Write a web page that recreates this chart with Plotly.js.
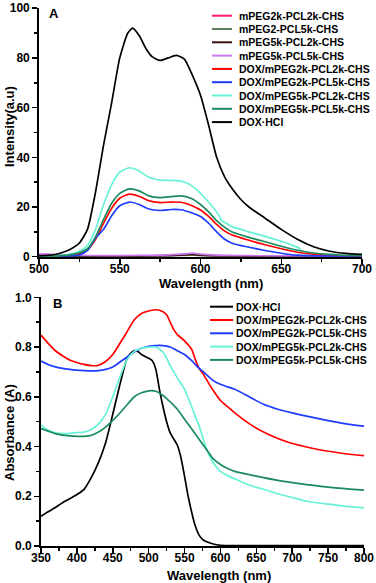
<!DOCTYPE html>
<html>
<head>
<meta charset="utf-8">
<script src="https://cdn.plot.ly/plotly-3.0.1.min.js"></script>
<style>
  html, body { margin: 0; padding: 0; background: #fff; }
  #myDiv { width: 376px; height: 583px; }
</style>
</head>
<body>
<div id="myDiv"></div>
<script>
// ---- panel A: fluorescence ----
let namesA = ["mPEG2k-PCL2k-CHS", "mPEG2-PCL5k-CHS", "mPEG5k-PCL2k-CHS", "mPEG5k-PCL5k-CHS",
	"DOX/mPEG2k-PCL2k-CHS", "DOX/mPEG2k-PCL5k-CHS", "DOX/mPEG5k-PCL2k-CHS", "DOX/mPEG5k-PCL5k-CHS", "DOX·HCl"]
let colorsA = ["#ff1a75", "#5e7d5a", "#3b1212", "#cc77ee", "#ff0000", "#1e3cff", "#66f2d6", "#1b8a5e", "#000000"]

let wlBlank = [500, 520, 540, 560, 580, 590, 595, 600, 610, 630, 660, 700]
let blank22 = [0.9, 0.5, 0.3, 0.3, 0.5, 0.8, 1.0, 0.7, 0.4, 0.3, 0.2, 0.2]
let blank25 = [0.6, 0.3, 0.2, 0.2, 0.3, 0.5, 0.6, 0.4, 0.3, 0.2, 0.1, 0.1]
let blank52 = [0.5, 0.2, 0.1, 0.2, 0.4, 0.7, 0.9, 0.6, 0.3, 0.2, 0.1, 0.1]
let blank55 = [1.1, 0.6, 0.4, 0.5, 0.7, 1.1, 1.4, 1.0, 0.6, 0.4, 0.3, 0.3]

let wlDox = [500, 510, 520, 525, 530, 535, 540, 545, 550, 556, 562, 568, 575, 582, 588, 594, 600, 605, 610, 615, 620, 630, 640, 650, 660, 670, 680, 690, 700]
let fl22 = [0.1, 0.2, 0.6, 1.2, 2.7, 7, 13.5, 19.5, 23.5, 25.2, 24.3, 22.5, 21.8, 22, 21.9, 20.7, 18.8, 16.2, 13, 10.3, 8.6, 6.6, 4.8, 3.2, 1.8, 1, 0.5, 0.3, 0.2]
let fl25 = [0, 0.1, 0.3, 0.7, 2.5, 7.5, 11, 16.5, 20.5, 22, 21, 19.2, 18.6, 19, 18.9, 17.8, 16.2, 13.5, 10, 7, 5.3, 3.8, 2.5, 1.4, 0.6, 0.3, 0.2, 0.1, 0.1]
let fl55 = [0.1, 0.2, 0.8, 1.6, 3.2, 8, 15, 21.5, 25.5, 27.3, 26.5, 24.5, 23.8, 24.2, 24.5, 23.5, 21, 18, 14.5, 11.8, 9.8, 7.8, 6, 4.2, 2.6, 1.5, 0.9, 0.5, 0.4]

let wl52 = [500, 510, 520, 525, 530, 535, 540, 545, 550, 556, 562, 568, 575, 582, 588, 594, 600, 605, 610, 612, 613, 615, 620, 630, 640, 650, 656, 661, 662]
let fl52 = [0.1, 0.3, 1.2, 2.2, 4.5, 11, 21, 29, 34, 35.8, 34.5, 32, 30.8, 30.7, 30.4, 28.8, 25.5, 22, 18, 16, 14.5, 13.8, 12, 10, 8.2, 6.2, 4.8, 3.5, 2.4]

let wlHcl = [500, 505, 510, 515, 520, 525, 530, 535, 540, 545, 550, 555, 558, 562, 566, 570, 575, 580, 585, 590, 595, 600, 605, 610, 615, 620, 625, 630, 640, 650, 660, 670, 680, 690, 700]
let flHcl = [0.3, 0.5, 0.9, 1.8, 3.2, 5.5, 11, 26, 45, 62, 80, 90, 92, 89, 84, 80.5, 79, 80, 81, 79.5, 73, 65, 53, 40, 32, 27, 23, 20, 15.5, 11, 7, 4, 2.2, 1.3, 0.9]

// ---- panel B: absorbance ----
let namesB = ["DOX·HCl", "DOX/mPEG2k-PCL2k-CHS", "DOX/mPEG2k-PCL5k-CHS", "DOX/mPEG5k-PCL2k-CHS", "DOX/mPEG5k-PCL5k-CHS"]
let colorsB = ["#000000", "#ff0000", "#1e3cff", "#66f2d6", "#1b8a5e"]

let wlAbsHcl = [350, 360, 370, 380, 390, 400, 410, 420, 430, 440, 450, 460, 470, 475, 480, 485, 490, 495, 500, 505, 510, 515, 520, 525, 530, 535, 540, 545, 550, 555, 560, 565, 570, 575, 580, 590, 600, 650, 700, 750, 800]
let absHcl = [0.12, 0.138, 0.155, 0.174, 0.19, 0.207, 0.228, 0.275, 0.335, 0.415, 0.53, 0.65, 0.755, 0.775, 0.785, 0.782, 0.77, 0.762, 0.755, 0.745, 0.71, 0.63, 0.56, 0.5, 0.455, 0.43, 0.405, 0.355, 0.28, 0.2, 0.135, 0.08, 0.045, 0.027, 0.018, 0.008, 0.003, 0.002, 0.002, 0.002, 0.002]

let wlAbs = [350, 360, 370, 380, 390, 400, 410, 420, 430, 440, 450, 460, 470, 480, 490, 500, 510, 520, 525, 530, 535, 540, 550, 560, 565, 570, 575, 580, 585, 590, 600, 610, 620, 640, 660, 680, 700, 720, 740, 760, 780, 800]
let abs22 = [0.848, 0.815, 0.785, 0.765, 0.748, 0.738, 0.73, 0.725, 0.727, 0.742, 0.77, 0.815, 0.862, 0.91, 0.935, 0.945, 0.95, 0.942, 0.93, 0.9, 0.87, 0.85, 0.825, 0.79, 0.75, 0.715, 0.695, 0.672, 0.648, 0.625, 0.585, 0.56, 0.535, 0.492, 0.458, 0.432, 0.412, 0.398, 0.386, 0.377, 0.369, 0.363]
let abs25 = [0.744, 0.73, 0.72, 0.714, 0.71, 0.707, 0.705, 0.704, 0.705, 0.71, 0.72, 0.74, 0.76, 0.78, 0.795, 0.803, 0.806, 0.806, 0.804, 0.8, 0.793, 0.785, 0.77, 0.745, 0.73, 0.715, 0.703, 0.69, 0.677, 0.665, 0.65, 0.64, 0.63, 0.6, 0.57, 0.55, 0.535, 0.522, 0.51, 0.499, 0.489, 0.482]
let abs52 = [0.487, 0.465, 0.455, 0.452, 0.453, 0.456, 0.458, 0.468, 0.49, 0.53, 0.6, 0.68, 0.75, 0.782, 0.795, 0.8, 0.8, 0.78, 0.755, 0.725, 0.7, 0.675, 0.63, 0.56, 0.52, 0.485, 0.44, 0.395, 0.36, 0.335, 0.3, 0.283, 0.27, 0.245, 0.228, 0.21, 0.195, 0.18, 0.172, 0.165, 0.158, 0.153]
let abs55 = [0.472, 0.462, 0.452, 0.446, 0.443, 0.441, 0.441, 0.445, 0.458, 0.478, 0.505, 0.535, 0.568, 0.6, 0.616, 0.624, 0.622, 0.605, 0.593, 0.58, 0.565, 0.55, 0.51, 0.47, 0.45, 0.43, 0.41, 0.39, 0.37, 0.35, 0.328, 0.312, 0.3, 0.287, 0.275, 0.264, 0.255, 0.247, 0.24, 0.234, 0.229, 0.225]

// ---- build the plot ----
let W = 376, H = 583
let mar = {l: 39, r: 12, t: 7, b: 37}
let plotW = W - mar.l - mar.r
let plotH = H - mar.t - mar.b
// pixel -> paper helpers (for panel letters, titles and hand-made legends)
function px(x){ return (x - mar.l) / plotW }
function py(y){ return (H - mar.b - y) / plotH }

let boldFont = {family: "Liberation Sans, Arial, sans-serif", color: "#000", weight: "bold"}

let xsA = [wlBlank, wlBlank, wlBlank, wlBlank, wlDox, wlDox, wl52, wlDox, wlHcl]
let ysA = [blank22, blank25, blank52, blank55, fl22, fl25, fl52, fl55, flHcl]
let xsB = [wlAbsHcl, wlAbs, wlAbs, wlAbs, wlAbs]
let ysB = [absHcl, abs22, abs25, abs52, abs55]

let data = []
for (let i = 0; i < namesA.length; i++){
	data.push({x: xsA[i], y: ysA[i], name: namesA[i], xaxis: 'x', yaxis: 'y', mode: 'lines',
		line: {color: colorsA[i], width: 1.7, shape: 'spline', smoothing: 0.6}, showlegend: false})
	}
for (let i = 0; i < namesB.length; i++){
	data.push({x: xsB[i], y: ysB[i], name: namesB[i], xaxis: 'x2', yaxis: 'y2', mode: 'lines',
		line: {color: colorsB[i], width: 1.7, shape: 'spline', smoothing: 0.6}, showlegend: false})
	}

function axisStyle(extra){
	let base = {
		showgrid: false, zeroline: false, showline: true, linecolor: '#000', linewidth: 1.8,
		ticks: 'outside', ticklen: 5, tickwidth: 1.5, tickcolor: '#000',
		tickfont: Object.assign({size: 12}, boldFont),
		minor: {ticks: 'outside', ticklen: 3, tickwidth: 1.5, tickcolor: '#000'},
		fixedrange: true
		}
	return Object.assign(base, extra)
	}

let shapes = []
let annotations = []

// legends (short line + label), drawn by hand to get the tight row spacing
function addLegend(names, colors, x0, x1, xt, y0, step){
	for (let i = 0; i < names.length; i++){
		let yy = y0 + i * step
		shapes.push({type: 'line', xref: 'paper', yref: 'paper', x0: px(x0), x1: px(x1), y0: py(yy), y1: py(yy),
			line: {color: colors[i], width: 2}})
		annotations.push({xref: 'paper', yref: 'paper', x: px(xt), y: py(yy), xanchor: 'left', yanchor: 'middle',
			text: names[i], showarrow: false, borderpad: 0, font: Object.assign({size: 10.5}, boldFont)})
		}
	}
addLegend(namesA, colorsA, 212, 232, 238, 15.7, 13.3)
addLegend(namesB, colorsB, 210, 233, 235, 306.7, 13.3)

// panel letters and axis titles
function addText(text, x, y, size, angle){
	annotations.push({xref: 'paper', yref: 'paper', x: px(x), y: py(y), xanchor: 'center', yanchor: 'middle',
		text: text, showarrow: false, textangle: angle || 0, borderpad: 0, font: Object.assign({size: size}, boldFont)})
	}
addText("A", 54, 13.5, 13)
addText("B", 57, 304, 13)
addText("Intensity(a.u)", 9, 127, 13, -90)
addText("Absorbance (A)", 9, 433, 13, -90)
addText("Wavelength (nm)", 211, 283, 13)
addText("Wavelength (nm)", 219, 575, 13)

let layout = {
	width: W, height: H,
	margin: mar,
	paper_bgcolor: '#fff', plot_bgcolor: '#fff',
	showlegend: false,
	xaxis: axisStyle({domain: [0, px(362)], range: [500, 700], tick0: 500, dtick: 50, anchor: 'y', ticklabelstandoff: -5,
		minor: {ticks: 'outside', ticklen: 3, tickwidth: 1.5, tickcolor: '#000', dtick: 25}}),
	yaxis: axisStyle({domain: [py(256.7), py(8.2)], range: [0, 100], tick0: 0, dtick: 20, anchor: 'x',
		minor: {ticks: 'outside', ticklen: 3, tickwidth: 1.5, tickcolor: '#000', dtick: 10}}),
	xaxis2: axisStyle({domain: [px(41), 1], range: [350, 800], tick0: 350, dtick: 50, anchor: 'y2', ticklabelstandoff: -5,
		minor: {ticks: 'outside', ticklen: 3, tickwidth: 1.5, tickcolor: '#000', dtick: 25}}),
	yaxis2: axisStyle({domain: [0, py(297.3)], range: [0, 1], tick0: 0, dtick: 0.2, anchor: 'x2', tickformat: '.1f',
		minor: {ticks: 'outside', ticklen: 3, tickwidth: 1.5, tickcolor: '#000', dtick: 0.1}}),
	shapes: shapes,
	annotations: annotations
	}

Plotly.newPlot('myDiv', data, layout, {displayModeBar: false, staticPlot: true})
</script>
</body>
</html>
